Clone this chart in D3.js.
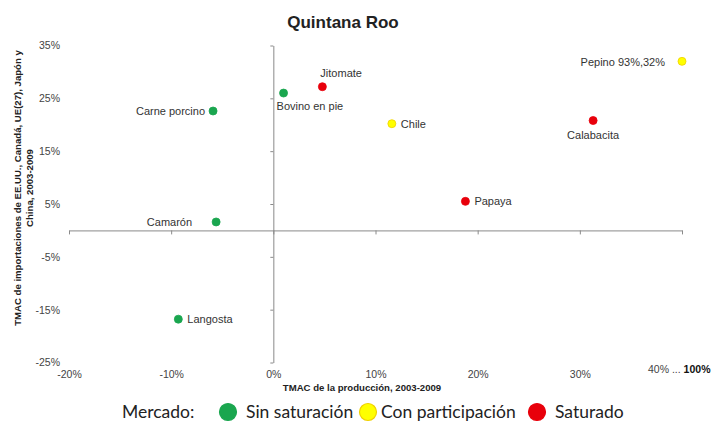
<!DOCTYPE html>
<html>
<head>
<meta charset="utf-8">
<script src="https://cdn.jsdelivr.net/npm/d3@7"></script>
<style>
    body { margin: 0; background: #fff; }
    svg { font-family: "Liberation Sans", Arial, sans-serif; }
    .tick-label { font-size: 10.5px; fill: #444; }
    .label { font-size: 11px; fill: #333; }
    .axis-title { font-size: 9.6px; font-weight: bold; fill: #222; }
    .legend { font-family: Lato, "Open Sans", sans-serif; font-size: 17.5px; fill: #222; }
</style>
</head>
<body>
<div id="chart"></div>
<script>
// Products (TMAC de la produccion vs TMAC de importaciones), values in %
let products = ["Pepino", "Calabacita", "Chile", "Papaya", "Jitomate",
                "Bovino en pie", "Carne porcino", "Camarón", "Langosta"];
let prodGrowth = [93, 31.3, 11.6, 18.8, 4.8, 1.0, -5.9, -5.6, -9.3];
let importGrowth = [32, 20.8, 20.2, 5.5, 27.2, 26.0, 22.6, 1.6, -16.8];
let market = ["Con participación", "Saturado", "Con participación", "Saturado", "Saturado",
              "Sin saturación", "Sin saturación", "Sin saturación", "Sin saturación"];
let labelText = ["Pepino 93%,32%", "Calabacita", "Chile", "Papaya", "Jitomate",
                 "Bovino en pie", "Carne porcino", "Camarón", "Langosta"];

let marketTypes = ["Sin saturación", "Con participación", "Saturado"];
let xTicks = [-20, -10, 0, 10, 20, 30, 40];
let yTicks = [-25, -15, -5, 5, 15, 25, 35];

let width = 712;
let height = 424;

// label offsets from the dot: [dx, dy, anchor]
let placement = {
    "Pepino": [-17, 5, "end"],
    "Calabacita": [0, 18, "middle"],
    "Chile": [9, 4, "start"],
    "Papaya": [9, 4, "start"],
    "Jitomate": [-2, -10, "start"],
    "Bovino en pie": [-7, 17, "start"],
    "Carne porcino": [-8, 4, "end"],
    "Camarón": [-24, 4, "end"],
    "Langosta": [9, 4, "start"]
};

let colors = d3.scaleOrdinal()
    .domain(marketTypes)
    .range(["#1aa64f", "#ffff00", "#e8000b"]);
let strokes = d3.scaleOrdinal()
    .domain(marketTypes)
    .range(["#1aa64f", "#f0d000", "#e8000b"]);

let data = products.map(function (p, i) {
    return { name: p, x: prodGrowth[i], y: importGrowth[i], market: market[i], text: labelText[i] };
});

// x beyond 40% is folded onto the "40% ... 100%" break
let xScale = d3.scaleLinear()
    .domain([-20, 40])
    .range([69, 682])
    .clamp(true);

let yScale = d3.scaleLinear()
    .domain([-25, 35])
    .range([362.5, 45.5]);

let svg = d3.select("#chart")
    .append("svg")
    .attr("width", width)
    .attr("height", height);

// Title
svg.append("text")
    .attr("x", 343)
    .attr("y", 28)
    .attr("text-anchor", "middle")
    .style("font-size", "17px")
    .style("font-weight", "bold")
    .style("fill", "#222")
    .text("Quintana Roo");

// Horizontal axis line through y = 0, ticks pointing down
let xAxis = d3.axisBottom(xScale)
    .tickValues(xTicks)
    .tickSize(4)
    .tickSizeOuter(0)
    .tickFormat("");
svg.append("g")
    .attr("transform", "translate(0," + yScale(0) + ")")
    .call(xAxis)
    .call(function (g) {
        g.selectAll("line, path").attr("stroke", "#8a8a8a");
    });

// Vertical axis line through x = 0, ticks pointing left
let yAxis = d3.axisLeft(yScale)
    .tickValues(yTicks)
    .tickSize(3)
    .tickSizeOuter(0)
    .tickFormat("");
svg.append("g")
    .attr("transform", "translate(" + xScale(0) + ",0)")
    .call(yAxis)
    .call(function (g) {
        g.selectAll("line, path").attr("stroke", "#8a8a8a");
    });

// Tick labels placed low (left edge and bottom edge)
let yLabels = d3.axisLeft(yScale)
    .tickValues(yTicks)
    .tickSize(0)
    .tickFormat(function (d) { return d + "%"; });
svg.append("g")
    .attr("transform", "translate(63,0)")
    .call(yLabels)
    .call(function (g) {
        g.select(".domain").remove();
        g.selectAll("text").attr("class", "tick-label").attr("font-size", null).attr("font-family", null);
    });

let xLabels = d3.axisBottom(xScale)
    .tickValues(xTicks.slice(0, -1))
    .tickSize(0)
    .tickFormat(function (d) { return d + "%"; });
svg.append("g")
    .attr("transform", "translate(0,368)")
    .call(xLabels)
    .call(function (g) {
        g.select(".domain").remove();
        g.selectAll("text").attr("class", "tick-label").attr("font-size", null).attr("font-family", null);
    });

// the broken last tick
let breakLabel = svg.append("text")
    .attr("class", "tick-label")
    .attr("x", xScale(40) - 34)
    .attr("y", 373);
breakLabel.append("tspan").text("40% ... ");
breakLabel.append("tspan").style("font-weight", "bold").style("fill", "#111").text("100%");

// Axis titles
svg.append("text")
    .attr("class", "axis-title")
    .attr("x", 362)
    .attr("y", 391)
    .attr("text-anchor", "middle")
    .text("TMAC de la producción, 2003-2009");

let yTitle = svg.append("text")
    .attr("class", "axis-title")
    .attr("transform", "translate(21,188) rotate(-90)")
    .attr("text-anchor", "middle");
yTitle.append("tspan").attr("x", 0).attr("dy", 0)
    .text("TMAC de importaciones de EE.UU., Canadá, UE(27), Japón y");
yTitle.append("tspan").attr("x", 0).attr("dy", 12)
    .text("China, 2003-2009");

// Points
svg.selectAll(".point")
    .data(data)
    .enter()
    .append("circle")
    .attr("class", "point")
    .attr("cx", function (d) { return xScale(d.x); })
    .attr("cy", function (d) { return yScale(d.y); })
    .attr("r", 4)
    .style("fill", function (d) { return colors(d.market); })
    .style("stroke", function (d) { return strokes(d.market); })
    .style("stroke-width", 0.8);

// Point labels
svg.selectAll(".label")
    .data(data)
    .enter()
    .append("text")
    .attr("class", "label")
    .attr("x", function (d) { return xScale(d.x) + placement[d.name][0]; })
    .attr("y", function (d) { return yScale(d.y) + placement[d.name][1]; })
    .attr("text-anchor", function (d) { return placement[d.name][2]; })
    .text(function (d) { return d.text; });

// Legend
let legend = svg.append("g").attr("class", "legend");
legend.append("text")
    .attr("x", 122)
    .attr("y", 418)
    .text("Mercado:");

let legendX = [228, 368, 537];
marketTypes.forEach(function (m, i) {
    legend.append("circle")
        .attr("cx", legendX[i])
        .attr("cy", 412)
        .attr("r", 8.5)
        .style("fill", colors(m))
        .style("stroke", strokes(m))
        .style("stroke-width", 1.2);
    legend.append("text")
        .attr("x", legendX[i] + (i === 1 ? 13 : 18))
        .attr("y", 418)
        .text(m);
});
</script>
</body>
</html>
